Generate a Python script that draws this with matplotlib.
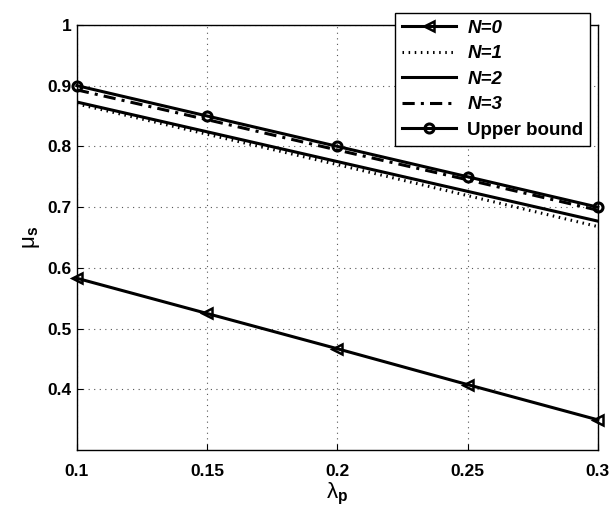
import matplotlib
matplotlib.use("Agg")
import matplotlib.pyplot as plt
import numpy as np

plt.rcParams['font.family'] = ['Liberation Sans', 'DejaVu Sans']
plt.rcParams['mathtext.fontset'] = 'custom'
plt.rcParams['mathtext.rm'] = 'Liberation Sans'
plt.rcParams['mathtext.bf'] = 'Liberation Sans:bold'
plt.rcParams['mathtext.it'] = 'Liberation Sans:italic'

lam = [0.1, 0.15, 0.2, 0.25, 0.3]
mu_n0 = [0.583, 0.525, 0.467, 0.408, 0.350]
mu_n1 = [0.870, 0.820, 0.770, 0.719, 0.668]
mu_n2 = [0.873, 0.824, 0.775, 0.726, 0.677]
mu_n3 = [0.893, 0.844, 0.794, 0.745, 0.695]
mu_ub = [0.900, 0.850, 0.800, 0.750, 0.700]

xticks = [0.1, 0.15, 0.2, 0.25, 0.3]
yticks = [0.4, 0.5, 0.6, 0.7, 0.8, 0.9, 1.0]
yticklabels = ['0.4', '0.5', '0.6', '0.7', '0.8', '0.9', '1']

fig = plt.figure(figsize=(6.1, 5.07), dpi=100)
ax = fig.add_axes([0.126, 0.112, 0.854, 0.839])

lw = 2.2
ax.plot(lam, mu_n0, color='k', lw=lw, marker='<', ms=7, mfc='none', mew=1.8,
        clip_on=False, label='N=0', zorder=5)
ax.plot(lam, mu_n1, color='k', lw=lw, ls=(0, (0.5, 1.5)), label='N=1')
ax.plot(lam, mu_n2, color='k', lw=lw, ls='-', label='N=2')
ax.plot(lam, mu_n3, color='k', lw=lw, ls=(0, (4, 2, 1, 2)), label='N=3')
ax.plot(lam, mu_ub, color='k', lw=lw, marker='o', ms=6.5, mfc='none', mew=2.2,
        clip_on=False, label='Upper bound', zorder=5)

ax.set_xlim(0.1, 0.3)
ax.set_ylim(0.3, 1.0)
ax.set_xticks(xticks)
ax.set_xticklabels([f'{t:g}' for t in xticks])
ax.set_yticks(yticks)
ax.set_yticklabels(yticklabels)
ax.tick_params(direction='in', labelsize=12.5, length=4)
ax.tick_params(axis='x', pad=10)
for lab in ax.get_xticklabels() + ax.get_yticklabels():
    lab.set_fontweight('bold')
ax.grid(True, ls=(0, (1, 4)), color='#555555', lw=0.8)
for s in ax.spines.values():
    s.set_linewidth(1.0)

ax.set_xlabel('λ$_\\mathbf{p}$', fontsize=16, labelpad=1)
ax.set_ylabel('μ$_\\mathbf{s}$', fontsize=16, labelpad=4)

leg = ax.legend(loc='upper right', bbox_to_anchor=(590/610, 1 - 13/507),
                bbox_transform=fig.transFigure, fancybox=False, framealpha=1,
                edgecolor='k', fontsize=13.5, handlelength=2.9, borderpad=0.35,
                labelspacing=0.45, borderaxespad=0, handletextpad=0.6)
leg.get_frame().set_linewidth(1.0)
for i, t in enumerate(leg.get_texts()):
    t.set_fontweight('bold')
    if i < 4:
        t.set_fontstyle('italic')

fig.savefig('out.png', dpi=100)
